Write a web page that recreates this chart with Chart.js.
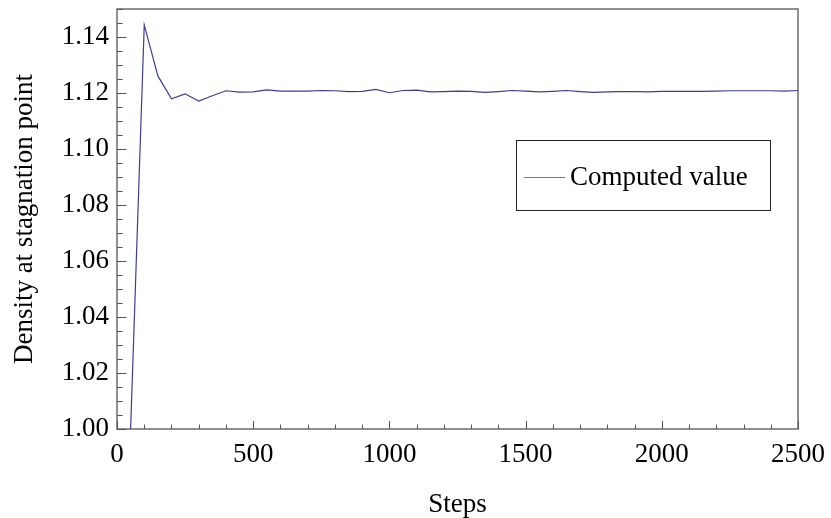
<!DOCTYPE html>
<html lang="en">
<head>
  <meta charset="UTF-8" />
  <title>Density at stagnation point</title>
  <script src="https://cdn.jsdelivr.net/npm/chart.js"></script>
  <style>
    body {
      margin: 0;
      background: #fff;
    }
    .chart-wrapper {
      width: 831px;
      height: 518px;
    }
  </style>
</head>
<body>
<div class="chart-wrapper"><canvas id="densityChart"></canvas></div>

<script>
  // dados (passo, densidade)
  const steps = [
    50, 100, 150, 200, 250, 300, 350, 400, 450, 500,
    550, 600, 650, 700, 750, 800, 850, 900, 950, 1000,
    1050, 1100, 1150, 1200, 1250, 1300, 1350, 1400, 1450, 1500,
    1550, 1600, 1650, 1700, 1750, 1800, 1850, 1900, 1950, 2000,
    2050, 2100, 2150, 2200, 2250, 2300, 2350, 2400, 2450, 2500
  ];
  const density = [
    1.0000, 1.1443, 1.1261, 1.1179, 1.1197, 1.1171, 1.1190, 1.1208, 1.1203, 1.1204,
    1.1211, 1.1207, 1.1207, 1.1207, 1.1209, 1.1208, 1.1205, 1.1206, 1.1213, 1.1201,
    1.1209, 1.1210, 1.1204, 1.1205, 1.1207, 1.1206, 1.1202, 1.1205, 1.1209, 1.1207,
    1.1204, 1.1206, 1.1209, 1.1205, 1.1202, 1.1204, 1.1205, 1.1205, 1.1204, 1.1206,
    1.1206, 1.1206, 1.1206, 1.1207, 1.1208, 1.1208, 1.1208, 1.1208, 1.1207, 1.1209
  ];
  const xTicks = [0, 500, 1000, 1500, 2000, 2500];
  const yTicks = [1.00, 1.02, 1.04, 1.06, 1.08, 1.10, 1.12, 1.14];
  const seriesLabel = 'Computed value';

  const fonte = 'Liberation Serif, Times New Roman, serif';
  const tamFonte = 27;
  const corLinha = 'rgb(61, 61, 153)';
  const corMoldura = '#555';

  // moldura + marcas para dentro (estilo Mathematica)
  const molduraPlugin = {
    id: 'moldura',
    afterDraw(chart) {
      const { ctx, chartArea: a, scales } = chart;
      const x = scales.x, y = scales.y;
      ctx.save();
      ctx.strokeStyle = corMoldura;
      ctx.lineWidth = 1.3;
      ctx.strokeRect(a.left, a.top, a.right - a.left, a.bottom - a.top);

      ctx.lineWidth = 1;
      ctx.beginPath();
      for (let v = 0; v <= 2500; v += 100) {
        const px = Math.round(x.getPixelForValue(v)) + 0.5;
        const len = v % 500 === 0 ? 8 : 4.5;
        ctx.moveTo(px, a.bottom);
        ctx.lineTo(px, a.bottom - len);
      }
      for (let i = 0; i <= 30; i++) {
        const v = 1 + i * 0.005;
        const py = Math.round(y.getPixelForValue(v)) + 0.5;
        const len = i % 4 === 0 ? 9.5 : 5.7;
        ctx.moveTo(a.left, py);
        ctx.lineTo(a.left + len, py);
      }
      ctx.stroke();
      ctx.restore();
    }
  };

  // legenda dentro da area do grafico
  const legendaPlugin = {
    id: 'legenda',
    afterDraw(chart) {
      const { ctx, chartArea: a } = chart;
      const w = a.right - a.left, h = a.bottom - a.top;
      const bx = a.left + 0.586 * w;
      const by = a.top + 0.312 * h;
      const bw = 0.373 * w;
      const bh = 0.1667 * h;
      ctx.save();
      ctx.fillStyle = '#fff';
      ctx.fillRect(bx, by, bw, bh);
      ctx.strokeStyle = '#222';
      ctx.lineWidth = 1;
      ctx.strokeRect(Math.round(bx) + 0.5, Math.round(by) + 0.5, Math.round(bw), Math.round(bh));
      const ly = Math.round(by + 0.53 * bh) + 0.5;
      ctx.strokeStyle = 'rgba(61, 61, 153, 0.75)';
      ctx.beginPath();
      ctx.moveTo(bx + 8, ly);
      ctx.lineTo(bx + 49, ly);
      ctx.stroke();
      ctx.fillStyle = '#000';
      ctx.font = tamFonte + 'px ' + fonte;
      ctx.textBaseline = 'alphabetic';
      ctx.fillText(chart.data.datasets[0].label, bx + 54, by + 0.64 * bh);
      ctx.restore();
    }
  };

  new Chart(document.getElementById('densityChart'), {
    type: 'line',
    data: {
      datasets: [
        {
          label: seriesLabel,
          data: steps.map((s, i) => ({ x: s, y: density[i] })),
          borderColor: corLinha,
          borderWidth: 1.2,
          pointRadius: 0,
          tension: 0,
          fill: false,
        },
      ],
    },
    options: {
      responsive: true,
      maintainAspectRatio: false,
      animation: false,
      layout: { padding: { top: 9, right: 33, left: 0, bottom: 0 } },
      plugins: {
        legend: { display: false },
        tooltip: { enabled: false },
      },
      scales: {
        x: {
          type: 'linear',
          min: 0,
          max: 2500,
          afterFit: (s) => {
            s.height = 89;
            s.paddingLeft = 0;
            s.paddingRight = 0;
          },
          afterBuildTicks: (s) => { s.ticks = xTicks.map((v) => ({ value: v })); },
          grid: { display: false, drawTicks: false },
          border: { display: false },
          ticks: {
            color: '#000',
            padding: 10,
            maxRotation: 0,
            font: { family: fonte, size: tamFonte },
            callback: (v) => String(v),
          },
          title: {
            display: true,
            text: 'Steps',
            color: '#000',
            padding: { top: 0, bottom: -3 },
            font: { family: fonte, size: tamFonte },
          },
        },
        y: {
          type: 'linear',
          min: 1.0,
          max: 1.15,
          afterFit: (s) => {
            s.width = 117;
            s.paddingTop = 0;
            s.paddingBottom = 0;
          },
          afterBuildTicks: (s) => { s.ticks = yTicks.map((v) => ({ value: v })); },
          grid: { display: false, drawTicks: false },
          border: { display: false },
          ticks: {
            color: '#000',
            padding: 8,
            font: { family: fonte, size: tamFonte },
            callback: (v) => Number(v).toFixed(2),
          },
          title: {
            display: true,
            text: 'Density at stagnation point',
            color: '#000',
            padding: { top: 9, bottom: 0 },
            font: { family: fonte, size: tamFonte },
          },
        },
      },
    },
    plugins: [molduraPlugin, legendaPlugin],
  });
</script>
</body>
</html>
